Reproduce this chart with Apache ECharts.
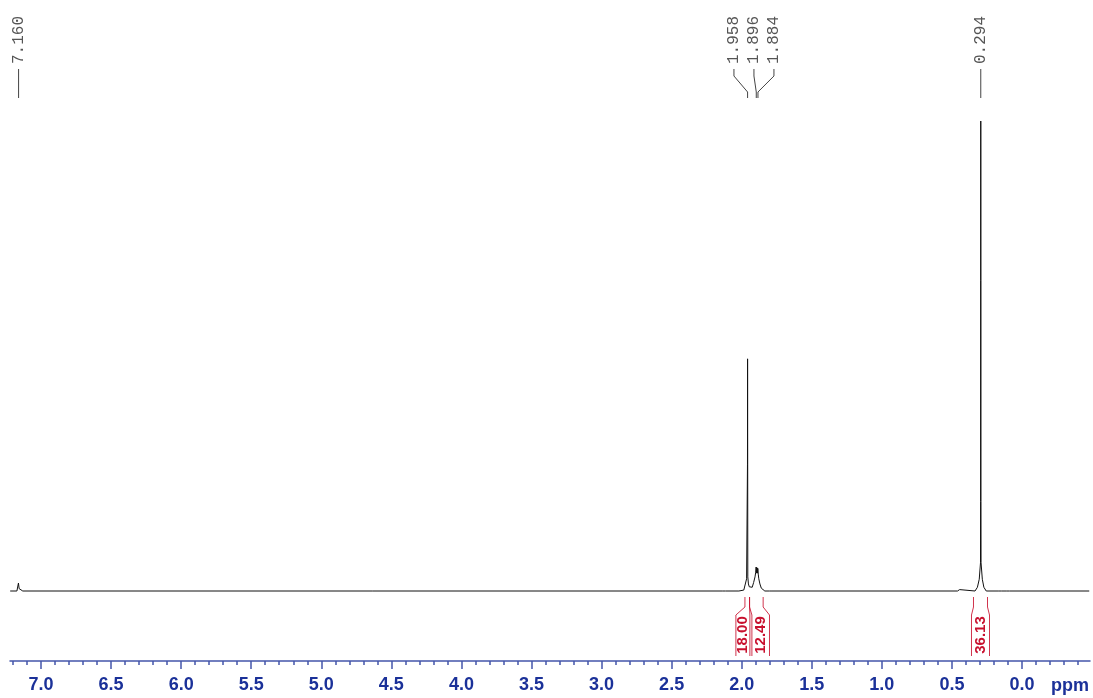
<!DOCTYPE html>
<html>
<head>
<meta charset="utf-8">
<script src="https://cdn.jsdelivr.net/npm/echarts@6/dist/echarts.min.js"></script>
<style>
  html, body { margin: 0; padding: 0; background: #fff; }
  #chart { width: 1093px; height: 698px; }
</style>
</head>
<body>
<div id="chart"></div>
<script>
// 1H trace: chemical shift (ppm) and relative intensity (tallest peak = 100)
const spectrumPpm = [
  7.22, 7.172, 7.165, 7.161, 7.156, 7.148, 7.13,
  2.135, 2.125, 2.115, 2.02, 1.985, 1.972, 1.965, 1.9605, 1.9588, 1.958, 1.9572, 1.9565, 1.952, 1.946, 1.940,
  1.925, 1.915, 1.905, 1.900, 1.897, 1.895, 1.893, 1.891, 1.889, 1.887, 1.885, 1.882, 1.878, 1.870, 1.860, 1.850, 1.835,
  1.80, 1.792, 1.784,
  0.46, 0.445, 0.432, 0.335, 0.318, 0.305, 0.296, 0.2952, 0.2946, 0.294, 0.2934, 0.2928, 0.292, 0.283, 0.272, 0.255,
  0.165, 0.155, 0.145, 0.108, 0.098, 0.088, -0.48
]
const spectrumInt = [
  0, 0, 0.4, 1.7, 0.5, 0.1, 0,
  0, 0.25, 0, 0, 0.2, 0.6, 2.6, 3.0, 27, 49.4, 27, 3.0, 1.5, 0.9, 0.8,
  0.8, 1.8, 3.0, 4.0, 5.1, 3.8, 5.0, 3.9, 4.9, 3.8, 4.8, 3.6, 2.6, 1.5, 0.6, 0.2, 0,
  0, 0.2, 0,
  0, 0.3, 0, 0, 0.8, 2.5, 6.0, 19, 66, 100, 66, 19, 6.0, 2.5, 0.8, 0,
  0, 0.3, 0, 0, 0.3, 0, 0
]

// peak picking
const peakPpm = [7.160, 1.958, 1.896, 1.884, 0.294]
const peakLabels = ['7.160', '1.958', '1.896', '1.884', '0.294']

// integral regions (ppm) and values
const integralFrom = [1.977, 1.944, 0.346]
const integralTo = [1.944, 1.847, 0.246]
const integralLabels = ['18.00', '12.49', '36.13']

// axis ticks
const majorTicks = [7.0, 6.5, 6.0, 5.5, 5.0, 4.5, 4.0, 3.5, 3.0, 2.5, 2.0, 1.5, 1.0, 0.5, 0.0]
const minorTicks = [
  7.2, 7.1, 6.9, 6.8, 6.7, 6.6, 6.4, 6.3, 6.2, 6.1, 5.9, 5.8, 5.7, 5.6, 5.4, 5.3, 5.2, 5.1,
  4.9, 4.8, 4.7, 4.6, 4.4, 4.3, 4.2, 4.1, 3.9, 3.8, 3.7, 3.6, 3.4, 3.3, 3.2, 3.1,
  2.9, 2.8, 2.7, 2.6, 2.4, 2.3, 2.2, 2.1, 1.9, 1.8, 1.7, 1.6, 1.4, 1.3, 1.2, 1.1,
  0.9, 0.8, 0.7, 0.6, 0.4, 0.3, 0.2, 0.1, -0.1, -0.2, -0.3, -0.4
]

const AXIS_BLUE = '#4455aa'
const LABEL_BLUE = '#1b3199'
const RED = '#c8102e'
const X_MIN = -0.4854
const X_MAX = 7.2213

const chart = echarts.init(document.getElementById('chart'))

// peak labels above the trace, spread out when peaks are close together
function renderPeakLabel(params, api) {
  const i = params.dataIndex
  const xs = peakPpm.map(p => api.coord([p, 0])[0])
  const gap = 20
  const groups = []
  xs.forEach((x, k) => {
    const g = groups[groups.length - 1]
    if (g && x - xs[g[g.length - 1]] < gap) g.push(k)
    else groups.push([k])
  })
  let lx = xs[i]
  groups.forEach(g => {
    const pos = g.indexOf(i)
    if (pos < 0) return
    const mid = g.reduce((s, k) => s + xs[k], 0) / g.length
    lx = mid + (pos - (g.length - 1) / 2) * gap
  })
  const px = xs[i]
  return {
    type: 'group',
    children: [
      {
        type: 'text', x: lx, y: 64, rotation: Math.PI / 2,
        style: { text: peakLabels[i], font: '16px "Liberation Mono"', fill: '#555', align: 'left', verticalAlign: 'middle' }
      },
      {
        type: 'polyline',
        shape: { points: [[lx, 69], [lx, 76], [px, 92], [px, 98]] },
        style: { stroke: '#444', lineWidth: 1, fill: null }
      }
    ]
  }
}

// integral brackets below the trace
function renderIntegral(params, api) {
  const i = params.dataIndex
  const base = api.coord([0, 0])[1]
  const boxes = integralFrom.map((f, k) => {
    const x1 = api.coord([f, 0])[0]
    const x2 = api.coord([integralTo[k], 0])[0]
    const c = (x1 + x2) / 2
    const h = Math.max((x2 - x1) / 2 + 2, 7)
    return { x1, x2, b1: c - h, b2: c + h }
  })
  for (let k = 1; k < boxes.length; k++) {
    const d = boxes[k - 1].b2 + 2 - boxes[k].b1
    if (d > 0) {
      boxes[k - 1].b1 -= d / 2; boxes[k - 1].b2 -= d / 2
      boxes[k].b1 += d / 2; boxes[k].b2 += d / 2
    }
  }
  const b = boxes[i]
  const line = (top, bot) => ({
    type: 'polyline',
    shape: { points: [[top, base + 6], [top, base + 16], [bot, base + 24], [bot, base + 65]] },
    style: { stroke: RED, lineWidth: 1, fill: null, opacity: 0.85 }
  })
  return {
    type: 'group',
    children: [
      line(b.x1, b.b1),
      line(b.x2, b.b2),
      {
        type: 'text', x: (b.b1 + b.b2) / 2, y: base + 44, rotation: Math.PI / 2,
        style: { text: integralLabels[i], font: 'bold 15px "Liberation Sans"', fill: RED, align: 'center', verticalAlign: 'middle' }
      }
    ]
  }
}

chart.setOption({
  animation: false,
  grid: { left: 10, right: 3, top: 121, bottom: 37 },
  xAxis: [
    {
      type: 'value', min: X_MIN, max: X_MAX, inverse: true, position: 'bottom',
      axisLine: { onZero: false, lineStyle: { color: AXIS_BLUE, width: 1.5 } },
      axisTick: { customValues: majorTicks, length: 8, lineStyle: { color: AXIS_BLUE, width: 1.5 } },
      axisLabel: {
        customValues: majorTicks, formatter: v => v.toFixed(1), margin: 15,
        color: LABEL_BLUE, fontSize: 18, fontWeight: 'bold', fontFamily: 'Liberation Sans'
      },
      splitLine: { show: false }
    },
    {
      type: 'value', min: X_MIN, max: X_MAX, inverse: true, position: 'bottom', offset: 0,
      axisLine: { show: false, onZero: false },
      axisTick: { customValues: minorTicks, length: 4, lineStyle: { color: AXIS_BLUE, width: 1.5 } },
      axisLabel: { show: false },
      splitLine: { show: false }
    }
  ],
  yAxis: { type: 'value', min: -14.89, max: 100, show: false },
  graphic: [
    {
      type: 'text', left: 1051, top: 677,
      style: { text: 'ppm', font: 'bold 18px "Liberation Sans"', fill: LABEL_BLUE }
    }
  ],
  series: [
    {
      type: 'line',
      data: spectrumPpm.map((p, i) => [p, spectrumInt[i]]),
      showSymbol: false,
      clip: false,
      lineStyle: { color: '#111', width: 1 }
    },
    {
      type: 'custom',
      data: peakPpm.map((p, i) => [p, 0, i]),
      renderItem: renderPeakLabel,
      silent: true
    },
    {
      type: 'custom',
      data: integralFrom.map((f, i) => [f, 0, i]),
      renderItem: renderIntegral,
      silent: true
    }
  ]
})
</script>
</body>
</html>
